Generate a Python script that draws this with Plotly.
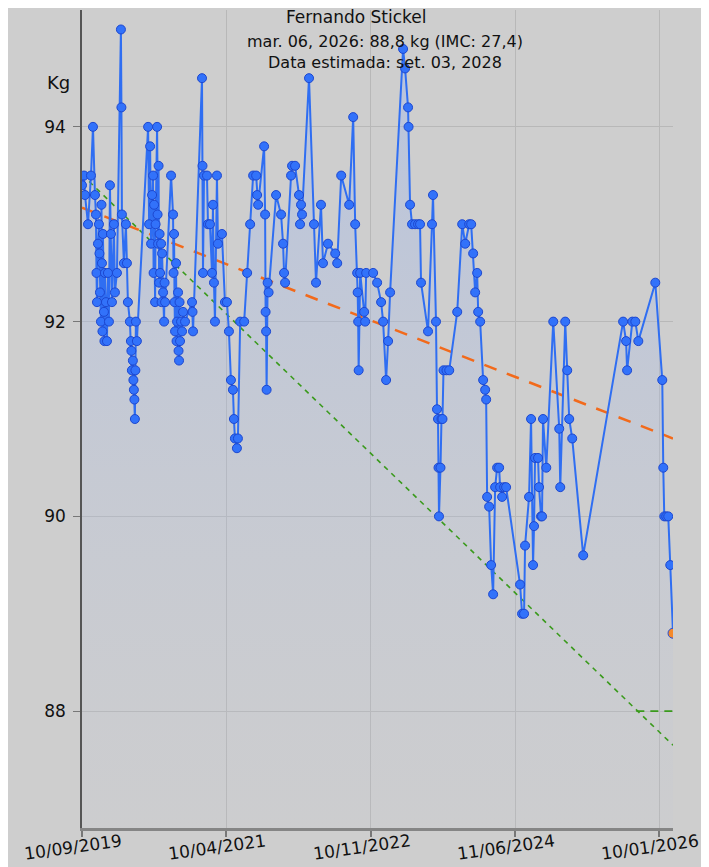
import pandas as pd
import plotly.graph_objects as go

start_date = "2019-09-10"

# days since the first weigh-in
days = [0, 8, 12, 24, 36, 44, 52, 56, 58, 60, 64, 68, 70, 72, 76, 78, 80, 82, 84, 88,
        90, 92, 96, 100, 104, 108, 112, 116, 120, 128, 132, 140, 156, 158, 160, 168, 176, 180, 184, 192,
        196, 198, 200, 204, 206, 208, 210, 212, 214, 216, 220,
        265, 269, 273, 277, 281, 285, 287, 289, 293, 295, 301, 303, 305, 307, 309, 311, 313, 317, 319, 321,
        325, 329, 331, 333, 357, 365, 367, 369, 371, 373, 377, 379, 381, 385, 387, 389, 391, 393, 397, 401,
        405, 413, 441, 443, 445, 481, 483, 485, 489, 501, 505, 513, 521, 525, 529, 533, 541, 545, 561, 573,
        581, 589, 597, 605, 609, 613, 621, 625, 634, 650,
        662, 674, 686, 698, 702, 706, 730, 734, 736, 738, 740, 744, 748, 778, 798, 806, 810, 814, 838, 842,
        854, 870, 874, 878, 882, 910, 930, 938, 958, 966, 986, 1015, 1023, 1039,
        1071, 1087, 1095, 1103, 1105, 1107, 1109, 1115, 1131, 1135, 1139, 1167, 1183, 1199, 1207, 1219, 1227, 1235, 1287, 1295,
        1307, 1309, 1315, 1323, 1335, 1347, 1355, 1359, 1387, 1403, 1407, 1419, 1423, 1427, 1429, 1431, 1437, 1441, 1445, 1449,
        1461, 1472,
        1504, 1524, 1536, 1552, 1560, 1568, 1576, 1584, 1588, 1596, 1608, 1616, 1620, 1624, 1632, 1640, 1648, 1656, 1664, 1672,
        1676, 1684, 1692, 1700, 1756, 1764, 1772, 1776, 1792, 1800, 1808, 1812, 1816, 1828, 1832, 1840, 1844, 1848, 1861,
        1889, 1913, 1917, 1937, 1945, 1953, 1965, 2009, 2169, 2181, 2185, 2206, 2218, 2230, 2298, 2326, 2330, 2334, 2342, 2350,
        2358, 2369]

weights = [93.4, 93.5, 93.3, 93.0, 93.5, 94.0, 93.3, 93.1, 92.5, 92.2, 92.8, 93.0, 92.7, 92.3, 92.0, 93.2, 92.6, 91.9, 92.9, 92.1,
           91.8, 92.5, 92.2, 91.8, 92.5, 92.0, 93.4, 92.9, 92.2, 93.0, 92.3, 92.5, 95.0, 94.2, 93.1, 92.6, 93.0, 92.6, 92.2, 92.0,
           91.8, 91.7, 91.5, 91.6, 91.4, 91.3, 91.2, 91.0, 91.5, 92.0, 91.8,
           94.0, 93.0, 93.8, 92.8, 93.3, 93.5, 92.5, 93.2, 92.2, 93.0, 94.0, 93.1, 92.8, 93.6, 92.4, 92.9, 92.5, 92.8, 92.2, 92.7,
           92.3, 92.0, 92.4, 92.2, 93.5, 93.1, 92.5, 92.9, 92.2, 91.9, 92.6, 91.8, 92.0, 92.3, 91.7, 91.6, 92.2, 91.8, 92.0, 91.9,
           92.1, 92.0, 92.2, 92.1, 91.9, 94.5, 93.6, 92.5, 93.5, 93.5, 93.0, 93.0, 92.5, 93.2, 92.4, 92.0, 93.5, 92.8, 92.9, 92.2,
           92.2, 91.9, 91.4, 91.3, 91.0, 90.8, 90.7, 90.8, 92.0, 92.0,
           92.5, 93.0, 93.5, 93.5, 93.3, 93.2, 93.8, 93.1, 92.1, 91.9, 91.3, 92.4, 92.3, 93.3, 93.1, 92.8, 92.5, 92.4, 93.5, 93.6,
           93.6, 93.3, 93.0, 93.2, 93.1, 94.5, 93.0, 92.4, 93.2, 92.6, 92.8, 92.7, 92.6, 93.5,
           93.2, 94.1, 93.0, 92.5, 92.3, 92.0, 91.5, 92.5, 92.1, 92.0, 92.5, 92.5, 92.4, 92.2, 92.0, 91.4, 91.8, 92.3, 94.8, 94.6,
           94.2, 94.0, 93.2, 93.0, 93.0, 93.0, 93.0, 92.4, 91.9, 93.0, 93.3, 92.0, 91.1, 91.0, 90.5, 90.0, 90.5, 91.0, 91.0, 91.5,
           91.5, 91.5,
           92.1, 93.0, 92.8, 93.0, 93.0, 92.7, 92.3, 92.5, 92.1, 92.0, 91.4, 91.3, 91.2, 90.2, 90.1, 89.5, 89.2, 90.3, 90.5, 90.5,
           90.3, 90.2, 90.3, 90.3, 89.3, 89.0, 89.0, 89.7, 90.2, 91.0, 89.5, 89.9, 90.6, 90.6, 90.3, 90.0, 90.0, 91.0, 90.5,
           92.0, 90.9, 90.3, 92.0, 91.5, 91.0, 90.8, 89.6, 92.0, 91.8, 91.5, 92.0, 92.0, 91.8, 92.4, 91.4, 90.5, 90.0, 90.0, 90.0,
           89.5, 88.8]

# trend lines (start / end of the period)
trend_days = [0, 2369]
linear_trend = [93.17, 90.80]
projection_trend = [93.51, 87.65]
goal_weight = 88.0
goal_days = [2222, 2369]

tick_dates = ["2019-09-10", "2021-04-10", "2022-11-10", "2024-06-11", "2026-01-10"]
tick_text = ["10/09/2019", "10/04/2021", "10/11/2022", "11/06/2024", "10/01/2026"]

title = "Fernando Stickel"
subtitle_1 = "mar. 06, 2026: 88,8 kg (IMC: 27,4)"
subtitle_2 = "Data estimada: set. 03, 2028"

assert len(days) == len(weights)

t0 = pd.Timestamp(start_date)
dates = t0 + pd.to_timedelta(days, unit="D")
trend_x = t0 + pd.to_timedelta(trend_days, unit="D")
goal_x = t0 + pd.to_timedelta(goal_days, unit="D")

FONT = "DejaVu Sans"
BG = "#cecece"

fig = go.Figure()

# shaded area under the weight curve
fig.add_trace(go.Scatter(
    x=dates, y=weights, mode="none", fill="tozeroy",
    fillgradient=dict(type="vertical",
                      colorscale=[[0, "rgba(190,196,215,0.10)"], [1, "rgba(150,180,245,0.42)"]],
                      start=86.8, stop=95.2),
    hoverinfo="skip", showlegend=False))

fig.add_trace(go.Scatter(x=trend_x, y=linear_trend, mode="lines",
                         line=dict(color="#f26a1b", width=2.5, dash="13px,11px"), showlegend=False))
fig.add_trace(go.Scatter(x=trend_x, y=projection_trend, mode="lines",
                         line=dict(color="#3a9a1c", width=1.6, dash="5px,5px"), showlegend=False))
fig.add_trace(go.Scatter(x=goal_x, y=[goal_weight, goal_weight], mode="lines",
                         line=dict(color="#3a9a1c", width=1.6, dash="8px,6px"), showlegend=False))

fig.add_trace(go.Scatter(
    x=dates, y=weights, mode="lines+markers",
    line=dict(color="#2f6ef2", width=2),
    marker=dict(size=9, color="#3272fa", line=dict(color="#1d47cf", width=1)),
    showlegend=False))

fig.add_trace(go.Scatter(
    x=[dates[-1]], y=[weights[-1]], mode="markers",
    marker=dict(size=10, color="#f5892a", line=dict(color="#2b55d8", width=1)),
    showlegend=False))

# the page adds an 8px body margin, so the figure is 8px smaller than the window
fig.update_layout(
    width=701, height=859,
    margin=dict(l=74, r=36, t=2, b=39),
    paper_bgcolor=BG, plot_bgcolor=BG,
    font=dict(family=FONT, size=17, color="#111111"),
    showlegend=False,
)

fig.update_xaxes(
    type="date", range=[t0, dates[-1]],
    tickvals=tick_dates, ticktext=tick_text, showticklabels=False,
    ticks="outside", ticklen=6, tickcolor="#777777", tickwidth=1.5,
    showgrid=True, gridcolor="#b8b8b8", gridwidth=1,
    showline=True, linecolor="#858585", linewidth=3,
    zeroline=False,
)
fig.update_yaxes(
    range=[86.8, 95.2], tickvals=[88, 90, 92, 94],
    ticks="outside", ticklen=7, tickcolor="#777777", ticklabelstandoff=4,
    showgrid=True, gridcolor="#b8b8b8", gridwidth=1,
    showline=True, linecolor="#555555", linewidth=1.5,
    zeroline=False, tickfont=dict(size=17),
)

# rotated date labels under the axis
for d, txt in zip(tick_dates, tick_text):
    fig.add_annotation(x=d, xref="x", y=0, yref="paper", text=txt, showarrow=False,
                       textangle=-8, xshift=-9, yshift=-19, xanchor="center", yanchor="middle",
                       font=dict(family=FONT, size=17, color="#111111"))

fig.add_annotation(x=0.4653, y=0.9914, xref="paper", yref="paper", text=title, showarrow=False,
                   xanchor="center", yanchor="middle", font=dict(family=FONT, size=17))
fig.add_annotation(x=0.5127, y=0.9487, xref="paper", yref="paper",
                   text=subtitle_1 + "<br>" + subtitle_2, showarrow=False,
                   xanchor="center", yanchor="middle", font=dict(family=FONT, size=16))
fig.add_annotation(x=-0.0406, y=0.9108, xref="paper", yref="paper", text="Kg", showarrow=False,
                   xanchor="center", yanchor="middle", font=dict(family=FONT, size=18))

fig.write_html("out.html")
